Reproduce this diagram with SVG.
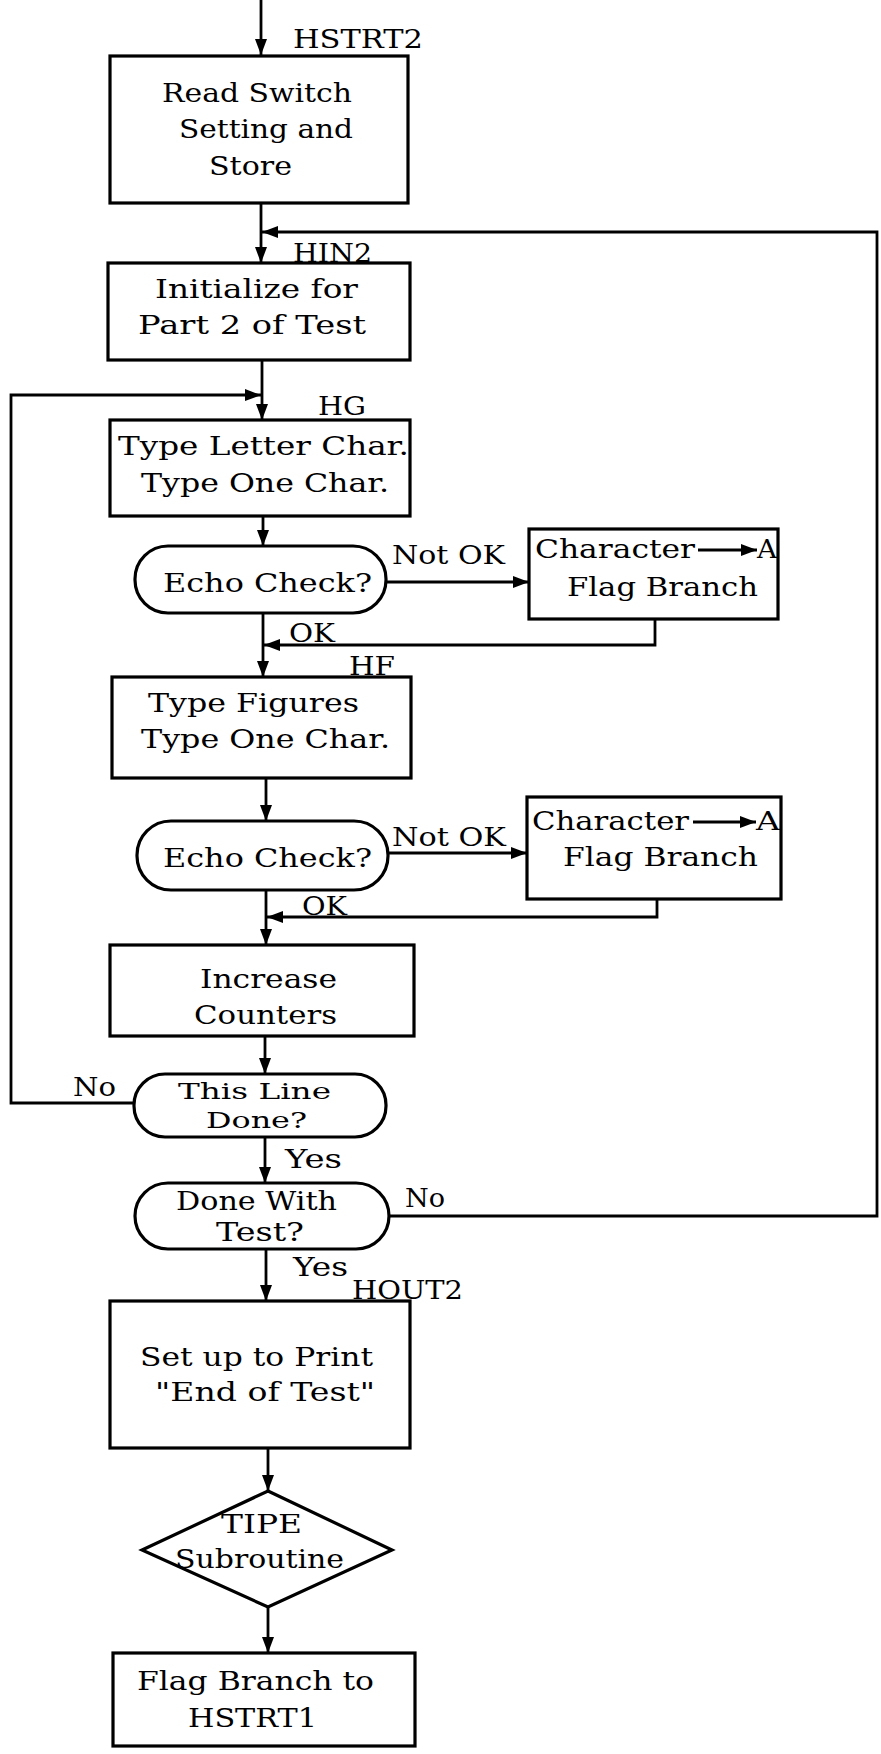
<svg xmlns="http://www.w3.org/2000/svg" width="881" height="1754" viewBox="0 0 881 1754">
<defs>
<marker id="ah" markerUnits="userSpaceOnUse" markerWidth="18" markerHeight="14" refX="16" refY="7" orient="auto">
<path d="M0,1 L16,7 L0,13 Z" fill="#000"/>
</marker>
<style>
.box{fill:#fff;stroke:#000;stroke-width:3.2}
.c{fill:none;stroke:#000;stroke-width:2.8}
text{font-family:"DejaVu Serif","Liberation Serif",serif;font-size:26px;fill:#000}
.sm{font-size:23px}
</style>
</defs>
<rect width="881" height="1754" fill="#fff"/>
<g id="connectors">
<line class="c" x1="261" y1="0" x2="261" y2="55" marker-end="url(#ah)"/>
<line class="c" x1="261" y1="203" x2="261" y2="263" marker-end="url(#ah)"/>
<path class="c" d="M389,1216 H877 V232 H262" marker-end="url(#ah)"/>
<line class="c" x1="262" y1="360" x2="262" y2="420" marker-end="url(#ah)"/>
<path class="c" d="M134,1103 H11 V395 H261" marker-end="url(#ah)"/>
<line class="c" x1="263" y1="516" x2="263" y2="546" marker-end="url(#ah)"/>
<line class="c" x1="386" y1="582" x2="529" y2="582" marker-end="url(#ah)"/>
<path class="c" d="M655,619 V645 H264" marker-end="url(#ah)"/>
<line class="c" x1="263" y1="613" x2="263" y2="677" marker-end="url(#ah)"/>
<line class="c" x1="266" y1="778" x2="266" y2="821" marker-end="url(#ah)"/>
<line class="c" x1="388" y1="853" x2="527" y2="853" marker-end="url(#ah)"/>
<path class="c" d="M657,899 V917 H267" marker-end="url(#ah)"/>
<line class="c" x1="266" y1="890" x2="266" y2="945" marker-end="url(#ah)"/>
<line class="c" x1="265" y1="1036" x2="265" y2="1074" marker-end="url(#ah)"/>
<line class="c" x1="265" y1="1137" x2="265" y2="1183" marker-end="url(#ah)"/>
<line class="c" x1="266" y1="1249" x2="266" y2="1301" marker-end="url(#ah)"/>
<line class="c" x1="268" y1="1448" x2="268" y2="1491" marker-end="url(#ah)"/>
<line class="c" x1="268" y1="1607" x2="268" y2="1653" marker-end="url(#ah)"/>
</g>
<g id="labels">
<text x="293" y="48" textLength="130" lengthAdjust="spacingAndGlyphs">HSTRT2</text>
<text x="293" y="262" textLength="79" lengthAdjust="spacingAndGlyphs">HIN2</text>
<text x="318" y="415" textLength="48" lengthAdjust="spacingAndGlyphs">HG</text>
<text x="349" y="675" textLength="46" lengthAdjust="spacingAndGlyphs">HF</text>
<text x="352" y="1299" textLength="111" lengthAdjust="spacingAndGlyphs">HOUT2</text>
<text x="392" y="564" textLength="113" lengthAdjust="spacingAndGlyphs">Not OK</text>
<text x="289" y="642" textLength="46" lengthAdjust="spacingAndGlyphs">OK</text>
<text x="392" y="846" textLength="114" lengthAdjust="spacingAndGlyphs">Not OK</text>
<text x="302" y="915" textLength="45" lengthAdjust="spacingAndGlyphs">OK</text>
<text x="73" y="1096" textLength="43" lengthAdjust="spacingAndGlyphs">No</text>
<text x="285" y="1168" textLength="57" lengthAdjust="spacingAndGlyphs">Yes</text>
<text x="405" y="1207" textLength="40" lengthAdjust="spacingAndGlyphs">No</text>
<text x="293" y="1276" textLength="55" lengthAdjust="spacingAndGlyphs">Yes</text>
</g>
<g id="n1">
<rect class="box" x="110" y="56" width="298" height="147"/>
<text x="162" y="102" textLength="190" lengthAdjust="spacingAndGlyphs">Read Switch</text>
<text x="179" y="138" textLength="174" lengthAdjust="spacingAndGlyphs">Setting and</text>
<text x="209" y="175" textLength="83" lengthAdjust="spacingAndGlyphs">Store</text>
</g>
<g id="n2">
<rect class="box" x="108" y="263" width="302" height="97"/>
<text x="155" y="298" textLength="203" lengthAdjust="spacingAndGlyphs">Initialize for</text>
<text x="138" y="334" textLength="228" lengthAdjust="spacingAndGlyphs">Part 2 of Test</text>
</g>
<g id="n3">
<rect class="box" x="110" y="420" width="300" height="96"/>
<text x="118" y="455" textLength="291" lengthAdjust="spacingAndGlyphs">Type Letter Char.</text>
<text x="141" y="492" textLength="248" lengthAdjust="spacingAndGlyphs">Type One Char.</text>
</g>
<g id="n4">
<rect class="box" x="135" y="546" width="251" height="67" rx="33" ry="33"/>
<text x="163" y="592" textLength="209" lengthAdjust="spacingAndGlyphs">Echo Check?</text>
</g>
<g id="n5">
<rect class="box" x="529" y="529" width="249" height="90"/>
<text x="535" y="558" textLength="160" lengthAdjust="spacingAndGlyphs">Character</text>
<line class="c" x1="698" y1="550" x2="757" y2="550" marker-end="url(#ah)"/>
<text x="757" y="558" textLength="20" lengthAdjust="spacingAndGlyphs">A</text>
<text x="567" y="596" textLength="191" lengthAdjust="spacingAndGlyphs">Flag Branch</text>
</g>
<g id="n6">
<rect class="box" x="112" y="677" width="299" height="101"/>
<text x="148" y="712" textLength="211" lengthAdjust="spacingAndGlyphs">Type Figures</text>
<text x="141" y="748" textLength="249" lengthAdjust="spacingAndGlyphs">Type One Char.</text>
</g>
<g id="n7">
<rect class="box" x="137" y="821" width="251" height="69" rx="34" ry="34"/>
<text x="163" y="867" textLength="209" lengthAdjust="spacingAndGlyphs">Echo Check?</text>
</g>
<g id="n8">
<rect class="box" x="527" y="797" width="254" height="102"/>
<text x="532" y="830" textLength="157" lengthAdjust="spacingAndGlyphs">Character</text>
<line class="c" x1="693" y1="822" x2="756" y2="822" marker-end="url(#ah)"/>
<text x="756" y="830" textLength="24" lengthAdjust="spacingAndGlyphs">A</text>
<text x="563" y="866" textLength="195" lengthAdjust="spacingAndGlyphs">Flag Branch</text>
</g>
<g id="n9">
<rect class="box" x="110" y="945" width="304" height="91"/>
<text x="200" y="988" textLength="137" lengthAdjust="spacingAndGlyphs">Increase</text>
<text x="194" y="1024" textLength="143" lengthAdjust="spacingAndGlyphs">Counters</text>
</g>
<g id="n10">
<rect class="box" x="134" y="1074" width="252" height="63" rx="31" ry="31"/>
<text class="sm" x="178" y="1099" textLength="153" lengthAdjust="spacingAndGlyphs">This Line</text>
<text class="sm" x="206" y="1128" textLength="101" lengthAdjust="spacingAndGlyphs">Done?</text>
</g>
<g id="n11">
<rect class="box" x="135" y="1183" width="254" height="66" rx="33" ry="33"/>
<text x="176" y="1210" textLength="161" lengthAdjust="spacingAndGlyphs">Done With</text>
<text x="216" y="1241" textLength="88" lengthAdjust="spacingAndGlyphs">Test?</text>
</g>
<g id="n12">
<rect class="box" x="110" y="1301" width="300" height="147"/>
<text x="140" y="1366" textLength="233" lengthAdjust="spacingAndGlyphs">Set up to Print</text>
<text x="155" y="1401" textLength="220" lengthAdjust="spacingAndGlyphs">"End of Test"</text>
</g>
<g id="n13">
<polygon class="box" points="268,1491 392,1550 268,1607 142,1550"/>
<text x="221" y="1533" textLength="81" lengthAdjust="spacingAndGlyphs">TIPE</text>
<text x="175" y="1568" textLength="169" lengthAdjust="spacingAndGlyphs">Subroutine</text>
</g>
<g id="n14">
<rect class="box" x="113" y="1653" width="302" height="93"/>
<text x="137" y="1690" textLength="237" lengthAdjust="spacingAndGlyphs">Flag Branch to</text>
<text x="188" y="1727" textLength="129" lengthAdjust="spacingAndGlyphs">HSTRT1</text>
</g>
</svg>
